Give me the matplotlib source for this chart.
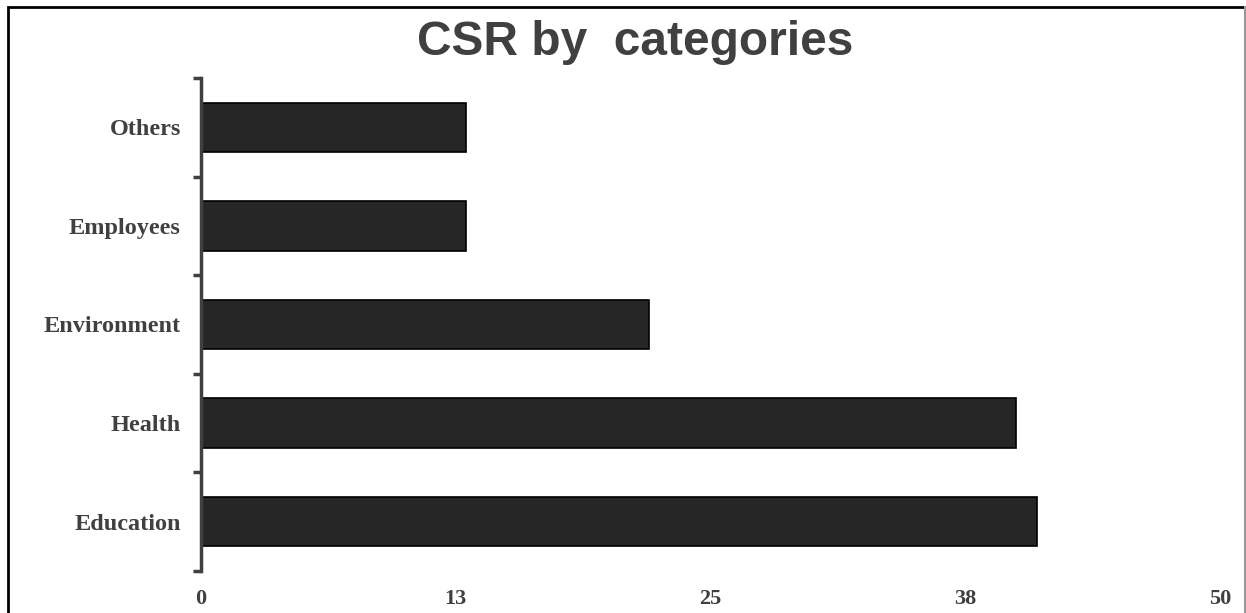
import matplotlib.pyplot as plt
from matplotlib.patches import Rectangle

# Chart data
categories = ["Education", "Health", "Environment", "Employees", "Others"]
values = [41, 40, 22, 13, 13]
x_ticks = [0, 12.5, 25, 37.5, 50]
x_tick_labels = ["0", "13", "25", "38", "50"]

TEXT = "#404040"

fig = plt.figure(figsize=(12.46, 6.13), dpi=100)
ax = fig.add_axes([201 / 1246, 1 - 571 / 613, (1220 - 201) / 1246, (571 - 78) / 613])

y = list(range(len(categories)))
ax.barh(y, values, height=0.5, color="#262626", edgecolor="black", linewidth=1.2)

ax.set_xlim(0, 50)
ax.set_ylim(-0.5, len(categories) - 0.5)

# category labels centred on bars, tick marks at category boundaries
ax.set_yticks(y)
ax.set_yticklabels(categories, fontfamily="Liberation Serif", fontweight="bold",
                   fontsize=17.5, color=TEXT)
ax.tick_params(axis="y", length=0, pad=14.5)
ax.set_yticks([i - 0.5 for i in range(len(categories) + 1)], minor=True)
ax.tick_params(axis="y", which="minor", length=6, width=2.5, color="#404040", direction="out")

ax.set_xticks(x_ticks)
ax.set_xticklabels(x_tick_labels, fontfamily="Liberation Serif", fontweight="bold",
                   fontsize=16, color=TEXT)
ax.tick_params(axis="x", length=0, pad=13)

for side in ["top", "right", "bottom"]:
    ax.spines[side].set_visible(False)
ax.spines["left"].set_color("#404040")
ax.spines["left"].set_linewidth(2.5)

fig.text(635 / 1246, 1 - 55 / 613, "CSR by  categories", ha="center", va="baseline",
         fontfamily="Liberation Sans", fontweight="bold", fontsize=34.5, color=TEXT)

# outer frame (black top/left, grey right, no bottom edge visible)
fig.patches.append(Rectangle((8 / 1246, -0.05), 1237 / 1246, 1.05 - 7 / 613,
                             transform=fig.transFigure, fill=False,
                             edgecolor="black", linewidth=2))
fig.lines.append(plt.Line2D([1245 / 1246, 1245 / 1246], [0, 1 - 7 / 613],
                            transform=fig.transFigure, color="#999999", linewidth=1.5))

fig.savefig("out.png", dpi=100)
